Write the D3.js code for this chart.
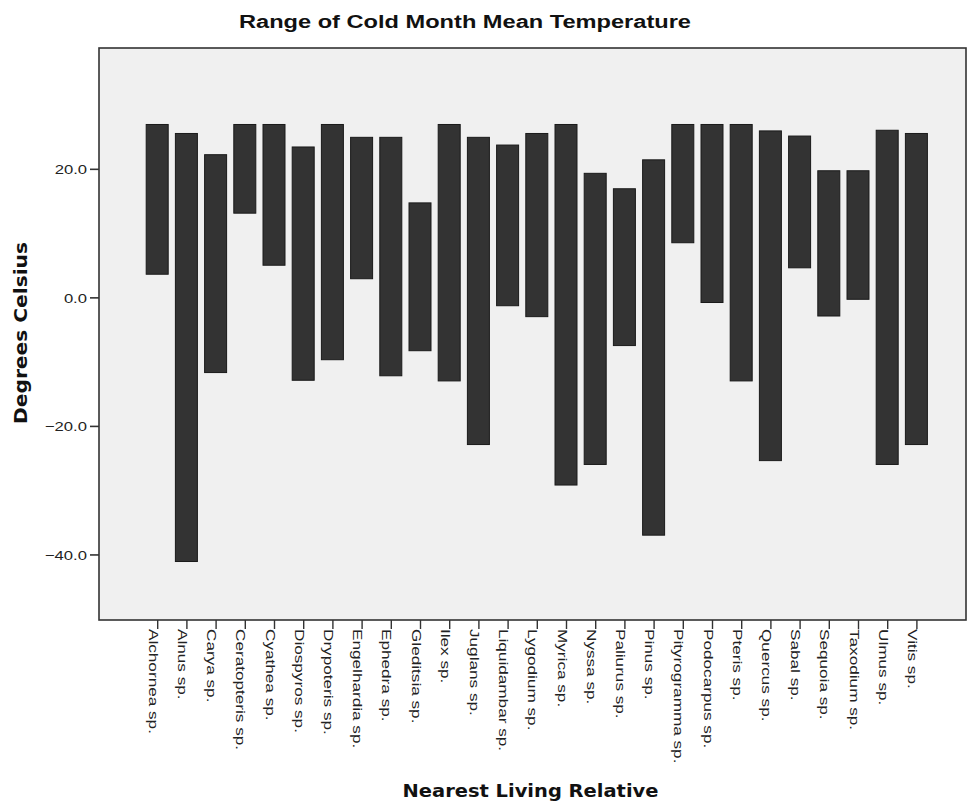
<!DOCTYPE html>
<html>
<head>
<meta charset="utf-8">
<script src="https://cdn.jsdelivr.net/npm/d3@7"></script>
<style>
  html, body { margin: 0; padding: 0; background: #ffffff; }
  svg { display: block; }
</style>
</head>
<body>
<svg id="chart" width="969" height="803"></svg>
<script>
// ---- data ----
const categories = [
  "Alchornea sp.", "Alnus sp.", "Carya sp.", "Ceratopteris sp.", "Cyathea sp.",
  "Diospyros sp.", "Drypoteris sp.", "Engelhardia sp.", "Ephedra sp.", "Gleditsia sp.",
  "Ilex sp.", "Juglans sp.", "Liquidambar sp.", "Lygodium sp.", "Myrica sp.",
  "Nyssa sp.", "Paliurus sp.", "Pinus sp.", "Pityrogramma sp.", "Podocarpus sp.",
  "Pteris sp.", "Quercus sp.", "Sabal sp.", "Sequoia sp.", "Taxodium sp.",
  "Ulmus sp.", "Vitis sp."
];
const highValues = [
  26.9, 25.5, 22.2, 26.9, 26.9,
  23.4, 26.9, 24.9, 24.9, 14.7,
  26.9, 24.9, 23.7, 25.5, 26.9,
  19.3, 16.9, 21.4, 26.9, 26.9,
  26.9, 25.9, 25.1, 19.7, 19.7,
  26.0, 25.5
];
const lowValues = [
  3.6, -41.1, -11.7, 13.1, 5.0,
  -12.9, -9.7, 2.9, -12.2, -8.3,
  -13.0, -22.9, -1.3, -3.0, -29.2,
  -26.0, -7.5, -37.0, 8.5, -0.8,
  -13.0, -25.4, 4.6, -2.9, -0.3,
  -26.0, -22.9
];
const yTickValues = [-40, -20, 0, 20];
const chartTitle = "Range of Cold Month Mean Temperature";
const xTitle = "Nearest Living Relative";
const yTitle = "Degrees Celsius";

// ---- layout ----
const svg = d3.select("#chart");
const plot = { left: 99, right: 966, top: 48, bottom: 620 };

const x = d3.scalePoint()
  .domain(categories)
  .range([157.2, 916.4]);
const barWidth = 22;

const y = d3.scaleLinear()
  .domain([-50.2, 38.8])
  .range([plot.bottom, plot.top]);

// plot background
svg.append("rect")
  .attr("x", plot.left).attr("y", plot.top)
  .attr("width", plot.right - plot.left)
  .attr("height", plot.bottom - plot.top)
  .attr("fill", "#f0f0f0");

// bars (floating range bars)
const rows = categories.map((c, i) => ({ c, hi: highValues[i], lo: lowValues[i] }));
svg.append("g").selectAll("rect")
  .data(rows)
  .join("rect")
  .attr("x", d => x(d.c) - barWidth / 2)
  .attr("y", d => y(d.hi))
  .attr("width", barWidth)
  .attr("height", d => y(d.lo) - y(d.hi))
  .attr("fill", "#333333")
  .attr("stroke", "#1a1a1a")
  .attr("stroke-width", 1);

// frame
svg.append("rect")
  .attr("x", plot.left).attr("y", plot.top)
  .attr("width", plot.right - plot.left)
  .attr("height", plot.bottom - plot.top)
  .attr("fill", "none")
  .attr("stroke", "#333")
  .attr("stroke-width", 1.6);

// y axis
const yAxis = svg.append("g")
  .attr("transform", `translate(${plot.left},0)`)
  .call(d3.axisLeft(y).tickValues(yTickValues).tickFormat(d3.format(".1f")).tickSize(9));
yAxis.select(".domain").remove();
yAxis.selectAll(".tick line").attr("stroke", "#333").attr("stroke-width", 1.6);
yAxis.selectAll(".tick text")
  .attr("x", 0)
  .attr("dy", "0.36em")
  .attr("text-anchor", "end")
  .attr("transform", "translate(-12,0) scale(1.28,1)")
  .attr("font-family", "'Liberation Sans', Arial, sans-serif")
  .attr("font-size", 13)
  .attr("fill", "#222");

// x axis
const xAxis = svg.append("g")
  .attr("transform", `translate(0,${plot.bottom})`)
  .call(d3.axisBottom(x).tickSize(9).tickSizeOuter(0));
xAxis.select(".domain").remove();
xAxis.selectAll(".tick line").attr("stroke", "#333").attr("stroke-width", 1.4);
xAxis.selectAll(".tick text")
  .attr("x", 0).attr("y", 0)
  .attr("dy", "0.68em")
  .attr("text-anchor", "start")
  .attr("transform", "translate(0,9) rotate(90) scale(1.32,1)")
  .attr("font-family", "'Liberation Sans', Arial, sans-serif")
  .attr("font-size", 13)
  .attr("fill", "#222");

// title
svg.append("text")
  .attr("x", 465).attr("y", 27.5)
  .attr("text-anchor", "middle")
  .attr("font-family", "'Liberation Sans', Arial, sans-serif")
  .attr("font-weight", "bold")
  .attr("font-size", 18)
  .attr("textLength", 452)
  .attr("lengthAdjust", "spacingAndGlyphs")
  .attr("fill", "#111")
  .text(chartTitle);

// x title
svg.append("text")
  .attr("x", (plot.left + plot.right) / 2 - 2).attr("y", 797)
  .attr("text-anchor", "middle")
  .attr("font-family", "'DejaVu Sans', Verdana, sans-serif")
  .attr("font-weight", "bold")
  .attr("font-size", 18)
  .attr("textLength", 256)
  .attr("lengthAdjust", "spacingAndGlyphs")
  .attr("fill", "#111")
  .text(xTitle);

// y title
svg.append("text")
  .attr("transform", `translate(27,${(plot.top + plot.bottom) / 2 - 1}) rotate(-90)`)
  .attr("text-anchor", "middle")
  .attr("font-family", "'DejaVu Sans', Verdana, sans-serif")
  .attr("font-weight", "bold")
  .attr("font-size", 18)
  .attr("textLength", 182)
  .attr("lengthAdjust", "spacingAndGlyphs")
  .attr("fill", "#111")
  .text(yTitle);
</script>
</body>
</html>
